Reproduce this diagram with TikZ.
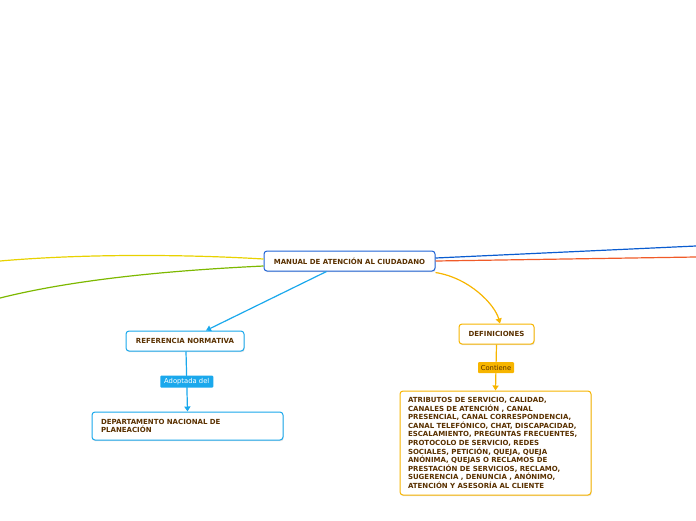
\documentclass[tikz,border=0pt]{standalone}
\usepackage{fontspec}
\setmainfont{DejaVu Sans}
\usetikzlibrary{arrows.meta,shadows}
\definecolor{txt}{HTML}{5A3100}
\definecolor{mainb}{HTML}{1E63D6}
\definecolor{refb}{HTML}{1AA8EC}
\definecolor{orb}{HTML}{F7B500}
\definecolor{yel}{HTML}{E8D200}
\definecolor{grn}{HTML}{7DB800}
\definecolor{dblue}{HTML}{0A5CD0}
\definecolor{red}{HTML}{F05A28}
\tikzset{
  box/.style={draw, line width=1pt, rounded corners=3pt, fill=white, text=txt,
    font=\bfseries\fontsize{7}{8.6}\selectfont, inner sep=0pt,
    drop shadow={opacity=0.25, shadow xshift=0.6pt, shadow yshift=-1.2pt}},
  tag/.style={rounded corners=1pt, inner sep=0pt, font=\fontsize{6.8}{7}\selectfont},
  conn/.style={line width=1.2pt},
  tip/.style={-{Triangle[length=5pt,width=6pt]}}
}
\begin{document}
\begin{tikzpicture}[x=1pt,y=-1pt]
\useasboundingbox (0,0) rectangle (696,520);
% nodes
\node[box, draw=mainb, minimum width=171pt, minimum height=20pt] (main) at (349.5,261) {MANUAL DE ATENCIÓN AL CIUDADANO};
\node[box, draw=refb, minimum width=118pt, minimum height=20pt] (ref) at (185,341) {REFERENCIA NORMATIVA};
\node[box, draw=refb, minimum width=191pt, minimum height=28pt, align=left, text width=173pt, inner xsep=9pt] (dnp) at (187.5,426) {DEPARTAMENTO NACIONAL DE\\PLANEACIÓN};
\node[box, draw=orb, minimum width=75pt, minimum height=20pt] (def) at (496.5,334) {DEFINICIONES};
\node[box, draw=orb, minimum width=191pt, minimum height=104pt, align=left, text width=175pt, inner xsep=8pt] (atr) at (495.5,443) {ATRIBUTOS DE SERVICIO, CALIDAD,\\CANALES DE ATENCIÓN , CANAL\\PRESENCIAL, CANAL CORRESPONDENCIA,\\CANAL TELEFÓNICO, CHAT, DISCAPACIDAD,\\ESCALAMIENTO, PREGUNTAS FRECUENTES,\\PROTOCOLO DE SERVICIO, REDES\\SOCIALES, PETICIÓN, QUEJA, QUEJA\\ANÓNIMA, QUEJAS O RECLAMOS DE\\PRESTACIÓN DE SERVICIOS, RECLAMO,\\SUGERENCIA , DENUNCIA , ANÓNIMO,\\ATENCIÓN Y ASESORÍA AL CLIENTE};
% free ends
\coordinate (yL) at (0,261);
\coordinate (gL) at (0,298);
\coordinate (bR) at (696,246);
\coordinate (rR) at (696,257);
% side branches
\draw[conn, yel] (main.west |- 0,259) .. controls (180,254) and (80,254) .. (yL);
\draw[conn, grn] (main.west |- 0,266) .. controls (180,270) and (80,278) .. (gL);
\draw[conn, dblue] (main.east |- 0,258) -- (bR);
\draw[conn, red] (main.east |- 0,261) -- (rR);
% arrows
\draw[conn, refb, tip] ([xshift=-23pt]main.south) -- ([xshift=21pt]ref.north);
\draw[conn, refb, tip] ([xshift=1pt]ref.south) -- node[tag, fill=refb, text=white, minimum width=53pt, minimum height=12pt] (ad) {Adoptada del} (dnp.north);
\draw[conn, orb, tip] ([yshift=-1pt]main.east |- main.south) .. controls (470,278) and (495,305) .. ([xshift=3.5pt]def.north);
\draw[conn, orb, tip] (def.south) -- node[tag, fill=orb, text=txt, minimum width=36pt, minimum height=11pt] (ct) {Contiene} (atr.north);
\end{tikzpicture}
\end{document}
